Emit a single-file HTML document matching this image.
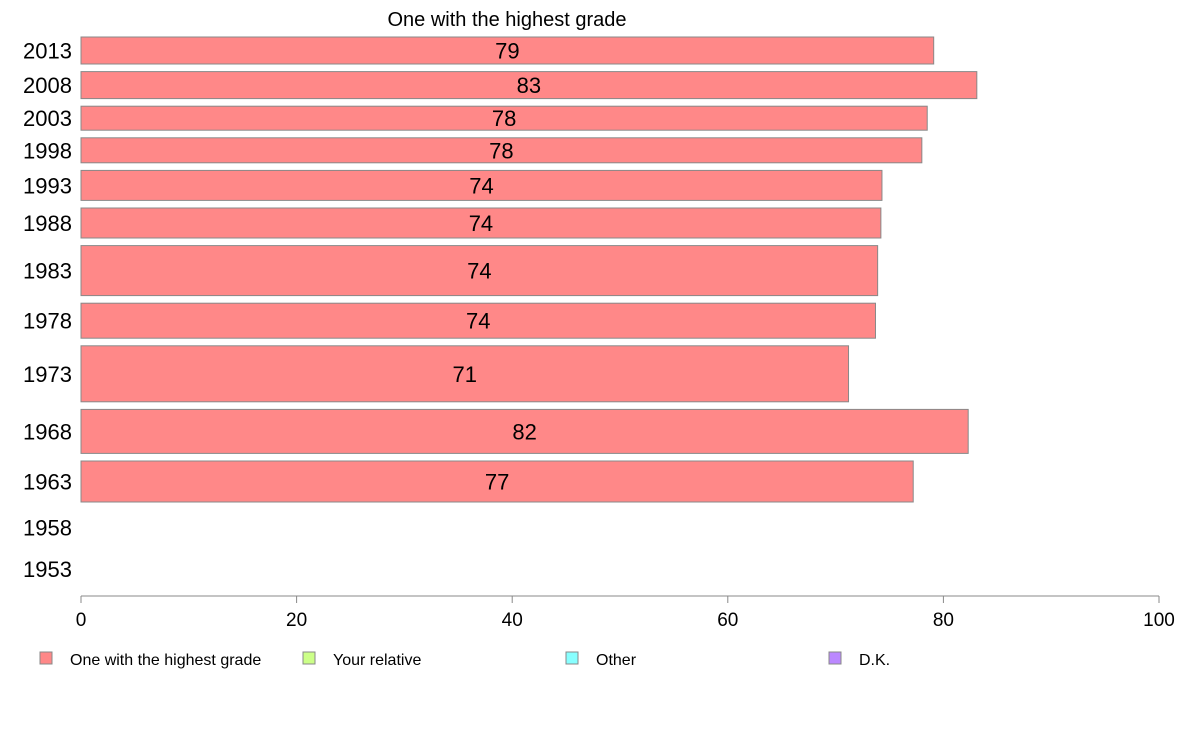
<!DOCTYPE html>
<html><head><meta charset="utf-8"><style>
body{margin:0;background:#fff;font-family:"Liberation Sans",Arial,sans-serif}
svg text{font-family:"Liberation Sans",Arial,sans-serif}
</style></head><body>
<svg id="chart" width="1188" height="736" xmlns="http://www.w3.org/2000/svg">
<text x="507" y="26" font-size="20" text-anchor="middle" fill="#000">One with the highest grade</text>
<g id="bars"></g>
<g id="axis"></g>
<g id="legend"></g>
</svg>
<script>
const years = ["2013","2008","2003","1998","1993","1988","1983","1978","1973","1968","1963","1958","1953"];
const values = [79.1,83.1,78.5,78.0,74.3,74.2,73.9,73.7,71.2,82.3,77.2,null,null];
const labels = ["79","83","78","78","74","74","74","74","71","82","77","",""];
const rowWeights = [27,27,24,25,30,30,50,35,56,44,41,36,32];
const xTicks = [0,20,40,60,80,100];
const legendItems = ["One with the highest grade","Your relative","Other","D.K."];
const legendColors = ["#ff8888","#ccff88","#88ffff","#bb88ff"];

const NS="http://www.w3.org/2000/svg";
const x0=81,x1=1159,top0=37,gap=7.6,axisY=596;
const xs=v=>x0+(x1-x0)*v/100;
function mk(t,a,p){const e=document.createElementNS(NS,t);for(const k in a)e.setAttribute(k,a[k]);p.appendChild(e);return e;}
const bars=document.getElementById('bars');
let y=top0;
years.forEach((yr,i)=>{
  const h=rowWeights[i];
  const cy=y+h/2;
  const t=mk('text',{x:72,y:cy+8,'font-size':22,'text-anchor':'end',fill:'#000'},bars);
  t.textContent=yr;
  
  
  if(values[i]!=null){
    const r=mk('rect',{x:x0,y:y,width:xs(values[i])-x0,height:h,fill:'#ff8888',stroke:'#888','stroke-width':1},bars);
    
    
    const v=mk('text',{x:(x0+xs(values[i]))/2,y:cy+8,'font-size':22,'text-anchor':'middle',fill:'#000'},bars);
    v.textContent=labels[i];
    
    
  }
  y+=h+gap;
});
const ax=document.getElementById('axis');
const al=mk('line',{x1:x0,x2:x1,y1:axisY,y2:axisY,stroke:'#888','stroke-width':1},ax);


xTicks.forEach(v=>{
  const tk=mk('line',{x1:xs(v),x2:xs(v),y1:axisY,y2:axisY+7,stroke:'#888'},ax);
  
  
  const tl=mk('text',{x:xs(v),y:axisY+30,'font-size':19,'text-anchor':'middle',fill:'#000'},ax);
  tl.textContent=v;
  
  
});
const lg=document.getElementById('legend');
legendItems.forEach((s,i)=>{
  const lx=40+i*263;
  const sq=mk('rect',{x:lx,y:652,width:12,height:12,fill:legendColors[i],stroke:'#888'},lg);
  
  
  const lt=mk('text',{x:lx+30,y:665,'font-size':16,fill:'#000'},lg);
  lt.textContent=s;
  
  
});
</script>
</body></html>
